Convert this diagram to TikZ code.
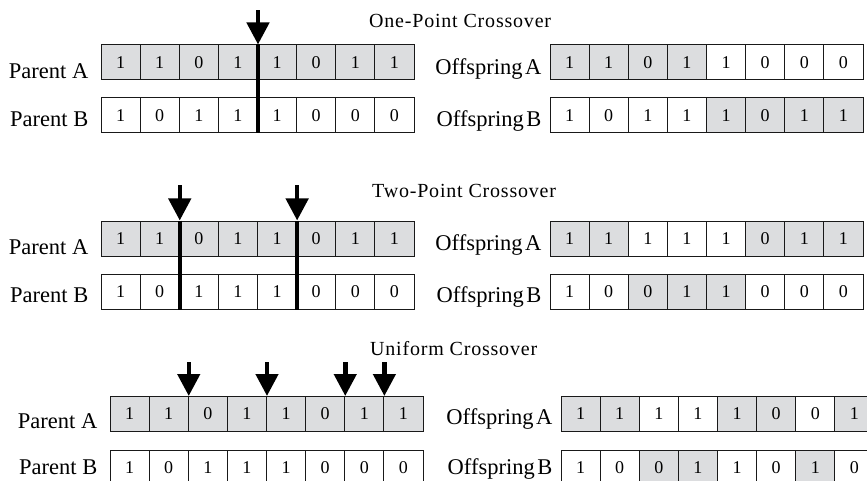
\documentclass[tikz,border=0pt]{standalone}
\usepackage{fontspec}
\setmainfont{Liberation Serif}
\newfontfamily\titlefont[LetterSpace=4]{Liberation Serif}
\usetikzlibrary{arrows.meta}
\definecolor{cellgray}{RGB}{220,221,223}
\definecolor{ink}{RGB}{25,25,25}
\newcommand\cellrow[4]{%
  \foreach \v/\s [count=\i] in {#4}
    \node[cell,\s] (#1-\i) at ({#2+(\i-0.5)*39.125},#3) {\v};}
\newcommand\offlab[1]{{\spaceskip=2.5pt\relax #1}}
\begin{document}
\begin{tikzpicture}[x=1pt,y=-1pt,
  cell/.style={draw=ink,line width=1pt,minimum width=39.125pt,minimum height=35pt,inner sep=0pt,font=\fontsize{18}{20}\selectfont},
  sh/.style={fill=cellgray}, nsh/.style={fill=white},
  lab/.style={anchor=base east,inner sep=0pt,font=\fontsize{22.5}{26}\selectfont},
  ttl/.style={anchor=base west,inner sep=0pt,font=\titlefont\fontsize{20}{24}\selectfont},
  cutline/.style={line width=4.5pt,draw=black},
  pointer/.style={line width=4.5pt,-{Triangle[width=22pt,length=22pt]}}]
\useasboundingbox (0,0) rectangle (867,481);
\clip (0,0) rectangle (867,481);

% ---------- One-Point ----------
\node[ttl] (ttl1) at (369,28) {One-Point Crossover};
\cellrow{pa1}{101}{62.5}{1/sh,1/sh,0/sh,1/sh,1/sh,0/sh,1/sh,1/sh}
\cellrow{pb1}{101}{115.5}{1/nsh,0/nsh,1/nsh,1/nsh,1/nsh,0/nsh,0/nsh,0/nsh}
\cellrow{oa1}{550}{62.5}{1/sh,1/sh,0/sh,1/sh,1/nsh,0/nsh,0/nsh,0/nsh}
\cellrow{ob1}{550}{115.5}{1/nsh,0/nsh,1/nsh,1/nsh,1/sh,0/sh,1/sh,1/sh}
\node[lab] (lpa1) at ([xshift=-12pt,yshift=2pt]pa1-1.south west) {Parent A};
\node[lab] (lpb1) at ([xshift=-12pt,yshift=7pt]pb1-1.south west) {Parent B};
\node[lab] (loa1) at ([xshift=-8pt,yshift=6pt]oa1-1.south west) {\offlab{Offspring A}};
\node[lab] (lob1) at ([xshift=-8pt,yshift=7pt]ob1-1.south west) {\offlab{Offspring B}};
\coordinate (at1) at ([yshift=34pt]pa1-4.north east);
\draw[pointer] (at1) -- (pa1-4.north east);
\draw[cutline] (pa1-4.north east) -- (pb1-4.south east);

% ---------- Two-Point ----------
\node[ttl] (ttl2) at (372,197) {Two-Point Crossover};
\cellrow{pa2}{101}{238.5}{1/sh,1/sh,0/sh,1/sh,1/sh,0/sh,1/sh,1/sh}
\cellrow{pb2}{101}{291.5}{1/nsh,0/nsh,1/nsh,1/nsh,1/nsh,0/nsh,0/nsh,0/nsh}
\cellrow{oa2}{550}{238.5}{1/sh,1/sh,1/nsh,1/nsh,1/nsh,0/sh,1/sh,1/sh}
\cellrow{ob2}{550}{291.5}{1/nsh,0/nsh,0/sh,1/sh,1/sh,0/nsh,0/nsh,0/nsh}
\node[lab] (lpa2) at ([xshift=-12pt,yshift=2pt]pa2-1.south west) {Parent A};
\node[lab] (lpb2) at ([xshift=-12pt,yshift=7pt]pb2-1.south west) {Parent B};
\node[lab] (loa2) at ([xshift=-8pt,yshift=6pt]oa2-1.south west) {\offlab{Offspring A}};
\node[lab] (lob2) at ([xshift=-8pt,yshift=7pt]ob2-1.south west) {\offlab{Offspring B}};
\coordinate (at2a) at ([yshift=35pt]pa2-2.north east);
\coordinate (at2b) at ([yshift=35pt]pa2-5.north east);
\draw[pointer] (at2a) -- (pa2-2.north east);
\draw[pointer] (at2b) -- (pa2-5.north east);
\draw[cutline] (pa2-2.north east) -- (pb2-2.south east);
\draw[cutline] (pa2-5.north east) -- (pb2-5.south east);

% ---------- Uniform ----------
\node[ttl] (ttl3) at (370,355) {Uniform Crossover};
\cellrow{pa3}{110}{414}{1/sh,1/sh,0/sh,1/sh,1/sh,0/sh,1/sh,1/sh}
\cellrow{pb3}{110}{467.5}{1/nsh,0/nsh,1/nsh,1/nsh,1/nsh,0/nsh,0/nsh,0/nsh}
\cellrow{oa3}{561}{414}{1/sh,1/sh,1/nsh,1/nsh,1/sh,0/sh,0/nsh,1/sh}
\cellrow{ob3}{561}{467.5}{1/nsh,0/nsh,0/sh,1/sh,1/nsh,0/nsh,1/sh,0/nsh}
\node[lab] (lpa3) at ([xshift=-12pt,yshift=4pt]pa3-1.south west) {Parent A};
\node[lab] (lpb3) at ([xshift=-12pt,yshift=11pt]pb3-1.south west) {Parent B};
\node[lab] (loa3) at ([xshift=-8pt,yshift=8pt]oa3-1.south west) {\offlab{Offspring A}};
\node[lab] (lob3) at ([xshift=-8pt,yshift=11pt]ob3-1.south west) {\offlab{Offspring B}};
\foreach \k in {2,4,6,7}{
  \coordinate (at3-\k) at ([yshift=34pt]pa3-\k.north east);
  \draw[pointer] (at3-\k) -- (pa3-\k.north east);
}
\end{tikzpicture}
\end{document}
